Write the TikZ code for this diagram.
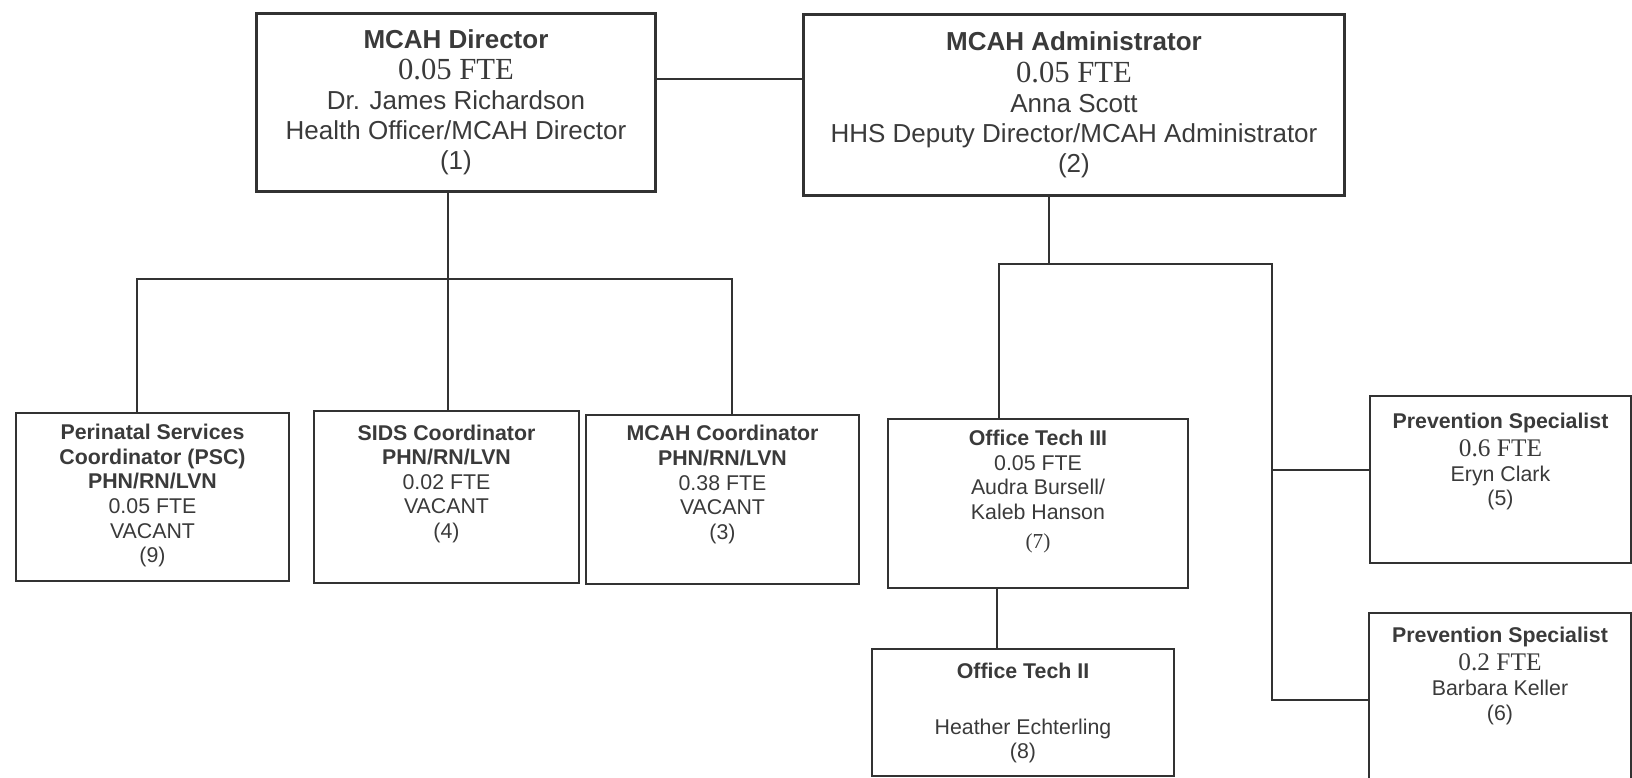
\documentclass[tikz,border=0pt]{standalone}
\usepackage{fontspec}
\setmainfont{Liberation Serif}
\setsansfont{Liberation Sans}

\definecolor{ink}{RGB}{58,58,58}
\definecolor{rule}{RGB}{50,50,50}

\tikzset{
  topbox/.style={draw=rule, line width=2.2pt, anchor=north west, inner sep=0pt},
  lowbox/.style={draw=rule, line width=1.5pt, anchor=north west, inner sep=0pt},
  link/.style={draw=rule, line width=1.1pt},
  toptext/.style={anchor=north, inner sep=0pt, align=center, text=ink,
    font=\sffamily\fontsize{19.5}{22.5}\selectfont},
  lowtext/.style={anchor=north, inner sep=0pt, align=center, text=ink,
    font=\sffamily\fontsize{16}{18.45}\selectfont},
}
% serif FTE lines
\newcommand{\fteTop}[1]{{\rmfamily\fontsize{23}{22.5}\selectfont #1}}
\newcommand{\fteLow}[1]{{\rmfamily\fontsize{19}{18.45}\selectfont #1}}

\begin{document}
\begin{tikzpicture}[x=0.75pt,y=0.75pt,yscale=-1,xscale=1]
\useasboundingbox (0,0) rectangle (1632,778);

% Boxes
\node[topbox, minimum width=299.25pt, minimum height=133.5pt] (dir) at (255,12) {};
\node[topbox, minimum width=405.75pt, minimum height=135.75pt] (adm) at (802,13) {};
\node[lowbox, minimum width=204.75pt, minimum height=126pt] (psc) at (15,412) {};
\node[lowbox, minimum width=198.75pt, minimum height=129pt] (sids) at (313,410) {};
\node[lowbox, minimum width=204.75pt, minimum height=126.75pt] (mcc) at (585,414) {};
\node[lowbox, minimum width=225pt, minimum height=126.75pt] (ot3) at (887,418) {};
\node[lowbox, minimum width=226.5pt, minimum height=95.25pt] (ot2) at (871,648) {};
\node[lowbox, minimum width=195.75pt, minimum height=125.25pt] (ps5) at (1369,395) {};
\node[lowbox, minimum width=196.5pt, minimum height=125.25pt] (ps6) at (1368,612) {};

% Text Node
\node[toptext] (dirt) at ([yshift=13pt]dir.north) {\textbf{MCAH Director}\\[1pt] \fteTop{0.05 FTE}\\ Dr. James Richardson\\ Health Officer/MCAH Director\\ (1)};
% Text Node
\node[toptext] (admt) at ([yshift=14pt]adm.north) {\textbf{MCAH Administrator}\\[1pt] \fteTop{0.05 FTE}\\ Anna Scott\\ HHS Deputy Director/MCAH Administrator\\ (2)};
% Text Node
\node[lowtext] (psct) at ([yshift=9pt]psc.north) {\textbf{Perinatal Services}\\ \textbf{Coordinator (PSC)}\\ \textbf{PHN/RN/LVN}\\ 0.05 FTE\\ VACANT\\ (9)};
% Text Node
\node[lowtext] (sidst) at ([yshift=10.8pt]sids.north) {\textbf{SIDS Coordinator}\\ \textbf{PHN/RN/LVN}\\ 0.02 FTE\\ VACANT\\ (4)};
% Text Node
\node[lowtext] (mcct) at ([yshift=8.4pt]mcc.north) {\textbf{MCAH Coordinator}\\ \textbf{PHN/RN/LVN}\\ 0.38 FTE\\ VACANT\\ (3)};
% Text Node
\node[lowtext] (ot3t) at ([yshift=9pt]ot3.north) {\textbf{Office Tech III}\\ 0.05 FTE\\ Audra Bursell/\\ Kaleb Hanson\\[3pt] {\rmfamily (7)}};
% Text Node
\node[lowtext] (ot2t) at ([yshift=11.4pt]ot2.north) {\textbf{Office Tech II}\\[23pt] Heather Echterling\\ (8)};
% Text Node
\node[lowtext] (ps5t) at ([yshift=13pt]ps5.north) {\textbf{Prevention Specialist}\\[3pt] \fteLow{0.6 FTE}\\ Eryn Clark\\ (5)};
% Text Node
\node[lowtext] (ps6t) at ([yshift=11pt]ps6.north) {\textbf{Prevention Specialist}\\[3pt] \fteLow{0.2 FTE}\\ Barbara Keller\\ (6)};

%Straight Lines
\coordinate (dj) at (728,79);
\draw[link] (dir.east |- dj) -- (adm.west |- dj);

% left branch
\coordinate (jl) at (448,279);
\coordinate (bl) at (137,279);
\coordinate (br) at (732,279);
\draw[link] (dir.south -| jl) -- (jl |- sids.north);
\draw[link] (psc.north -| bl) |- (br) -- (br |- mcc.north);

% right branch
\coordinate (ja) at (1049,264);
\coordinate (rl) at (999,264);
\coordinate (rr) at (1272,264);
\coordinate (s5) at (1272,470);
\coordinate (s6) at (1272,700);
\draw[link] (adm.south -| ja) -- (ja);
\draw[link] (ot3.north -| rl) |- (rr) -- (s6) -- (s6 -| ps6.west);
\draw[link] (s5) -- (s5 -| ps5.west);
\coordinate (oc) at (997,617);
\draw[link] (ot3.south -| oc) -- (oc |- ot2.north);

\end{tikzpicture}
\end{document}
